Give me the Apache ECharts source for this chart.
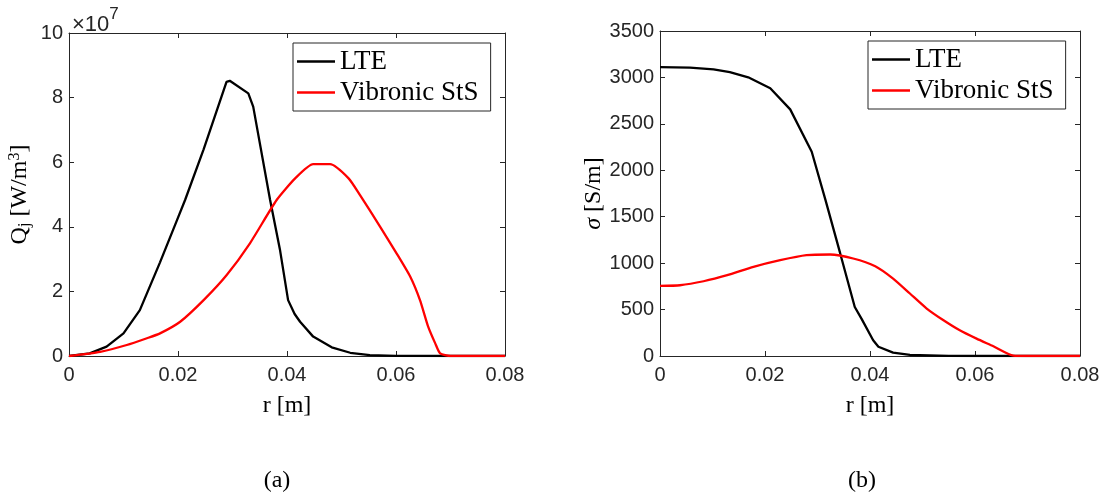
<!DOCTYPE html>
<html>
<head>
<meta charset="utf-8">
<script src="https://cdn.jsdelivr.net/npm/echarts@6/dist/echarts.min.js"></script>
<style>
html,body{margin:0;padding:0;background:#fff;}
#c{width:1104px;height:496px;}
</style>
</head>
<body>
<div id="c"></div>
<script>
// ---- Data (a): Joule heating Q_j, units of 1e7 W/m^3 ----
var qLTE_r = [0,0.0038,0.0069,0.0100,0.0130,0.0167,0.0198,0.0213,0.0247,0.0289,0.0295,0.0329,0.0338,0.0369,0.0387,0.0402,0.0414,0.0424,0.0448,0.0482,0.0516,0.0552,0.0600,0.0700,0.0800];
var qLTE_v = [0,0.08,0.29,0.70,1.42,2.90,4.20,4.83,6.40,8.49,8.52,8.13,7.72,4.83,3.30,1.73,1.30,1.06,0.60,0.27,0.10,0.03,0.005,0,0];
var qSTS_r = [0,0.0057,0.0106,0.0143,0.0167,0.0204,0.0247,0.0289,0.0332,0.0381,0.0415,0.0448,0.0479,0.0513,0.0534,0.0571,0.0601,0.0626,0.0644,0.0659,0.0672,0.0681,0.0700,0.0800];
var qSTS_v = [0,0.13,0.34,0.55,0.70,1.06,1.73,2.50,3.49,4.83,5.50,5.94,5.94,5.50,4.98,4.00,3.18,2.46,1.73,0.91,0.39,0.08,0,0];
// ---- Data (b): electrical conductivity sigma, S/m ----
var sLTE_r = [0,0.0057,0.0102,0.0133,0.0168,0.0210,0.0248,0.0289,0.0315,0.0343,0.0371,0.0384,0.0406,0.0416,0.0444,0.0476,0.0550,0.0600,0.0800];
var sLTE_v = [3110,3105,3087,3058,3001,2883,2656,2199,1684,1110,528,400,169,100,37,11,2,0,0];
var sSTS_r = [0,0.0038,0.0083,0.0128,0.0178,0.0229,0.0279,0.0324,0.0368,0.0410,0.0444,0.0476,0.0508,0.0540,0.0571,0.0603,0.0635,0.0673,0.0700,0.0800];
var sSTS_v = [755,762,805,870,960,1032,1086,1093,1050,967,834,673,511,385,277,187,105,4,0,0];
// ---- Axis ticks ----
var xTicks = [0,0.02,0.04,0.06,0.08];
var qTicks = [0,2,4,6,8,10];
var sTicks = [0,500,1000,1500,2000,2500,3000,3500];
var seriesNames = ['LTE','Vibronic StS'];

function pairs(r,v){return r.map(function(x,i){return [x,v[i]];});}

var AX = '#262626';
var SANS = 'Liberation Sans';
var SERIF = 'Liberation Serif';

function xAx(grid, primary, name){
  return {
    type:'value', gridIndex:grid, position: primary?'bottom':'top',
    min:xTicks[0], max:xTicks[xTicks.length-1], interval:xTicks[1]-xTicks[0],
    axisLine:{show:true,onZero:false,lineStyle:{color:AX,width:1}},
    axisTick:{show:true,inside:true,length:5,lineStyle:{color:AX,width:1}},
    axisLabel:{show:primary,color:AX,fontFamily:SANS,fontSize:20,margin:9,
      formatter:function(v){return String(+v.toFixed(2));}},
    splitLine:{show:false},
    name: primary?name:'', nameLocation:'middle', nameGap:38,
    nameTextStyle:{fontFamily:SERIF,fontSize:24,color:'#000'}
  };
}
function yAx(grid, primary, ticks, nameObj){
  var o = {
    type:'value', gridIndex:grid, position: primary?'left':'right',
    min:ticks[0], max:ticks[ticks.length-1], interval:ticks[1]-ticks[0],
    axisLine:{show:true,onZero:false,lineStyle:{color:AX,width:1}},
    axisTick:{show:true,inside:true,length:5,lineStyle:{color:AX,width:1}},
    axisLabel:{show:primary,color:AX,fontFamily:SANS,fontSize:20,margin:6,
      formatter:function(v){return String(v);}},
    splitLine:{show:false}
  };
  if(primary && nameObj){
    o.name = nameObj.text; o.nameLocation='middle'; o.nameGap=nameObj.gap; o.nameRotate=90;
    o.nameTextStyle={fontFamily:SERIF,fontSize:24,color:'#000',rich:nameObj.rich};
  }
  return o;
}

var richQ = {
  m:{fontFamily:SERIF,fontSize:24,color:'#000'},
  sub:{fontFamily:SERIF,fontSize:16,color:'#000',verticalAlign:'bottom',padding:[8,0,0,0]},
  sup:{fontFamily:SERIF,fontSize:16,color:'#000',verticalAlign:'top',padding:[0,0,10,0]}
};
var richS = {
  m:{fontFamily:SERIF,fontSize:24,color:'#000'},
  it:{fontFamily:SERIF,fontSize:24,fontStyle:'italic',color:'#000'}
};

function legend(left, top){
  return {
    orient:'vertical', left:left, top:top, selectedMode:false,
    backgroundColor:'#fff', borderColor:AX, borderWidth:1, borderRadius:0,
    padding:[5,12,5,4], itemGap:4, itemWidth:38, itemHeight:2.5, icon:'rect',
    data:seriesNames,
    textStyle:{fontFamily:SERIF,fontSize:27,color:'#000'}
  };
}

function line(name, data, color, xi, yi, sm){
  return {name:name,type:'line',xAxisIndex:xi,yAxisIndex:yi,data:data,
    symbol:'none',showSymbol:false,smooth:sm||false,
    lineStyle:{color:color,width:2.3},itemStyle:{color:color},
    animation:false};
}

var chart = echarts.init(document.getElementById('c'), null, {renderer:'canvas'});
chart.setOption({
  animation:false,
  backgroundColor:'#fff',
  grid:[
    {left:69, top:33, width:436, height:323},
    {left:660, top:31, width:420, height:325}
  ],
  xAxis:[ xAx(0,true,'r [m]'), xAx(0,false), xAx(1,true,'r [m]'), xAx(1,false) ],
  yAxis:[
    yAx(0,true,qTicks,{text:'{m|Q}{sub|j}{m| [W/m}{sup|3}{m|]}',gap:36,rich:richQ}),
    yAx(0,false,qTicks),
    yAx(1,true,sTicks,{text:'{it|σ}{m| [S/m]}',gap:26,rich:richS}),
    yAx(1,false,sTicks)
  ],
  legend:[ legend(293,43), legend(868,41) ],
  series:[
    line(seriesNames[0], pairs(qLTE_r,qLTE_v), '#000000', 0, 0),
    line(seriesNames[1], pairs(qSTS_r,qSTS_v), '#ff0000', 0, 0, 0.2),
    line(seriesNames[0], pairs(sLTE_r,sLTE_v), '#000000', 2, 2),
    line(seriesNames[1], pairs(sSTS_r,sSTS_v), '#ff0000', 2, 2, 0.2)
  ],
  graphic:[
    {type:'text', left:72, top:6, style:{
      text:'{a|×10}{b|7}',
      rich:{a:{fontFamily:SANS,fontSize:22,fill:AX,verticalAlign:'bottom',padding:[8,0,0,0]},
            b:{fontFamily:SANS,fontSize:17,fill:AX,verticalAlign:'top'}}}},
    {type:'text', x:277, y:481, style:{text:'(a)',fontFamily:SERIF,fontSize:24,fill:'#000',align:'center',verticalAlign:'middle'}},
    {type:'text', x:862, y:481, style:{text:'(b)',fontFamily:SERIF,fontSize:24,fill:'#000',align:'center',verticalAlign:'middle'}}
  ]
});
</script>
</body>
</html>
